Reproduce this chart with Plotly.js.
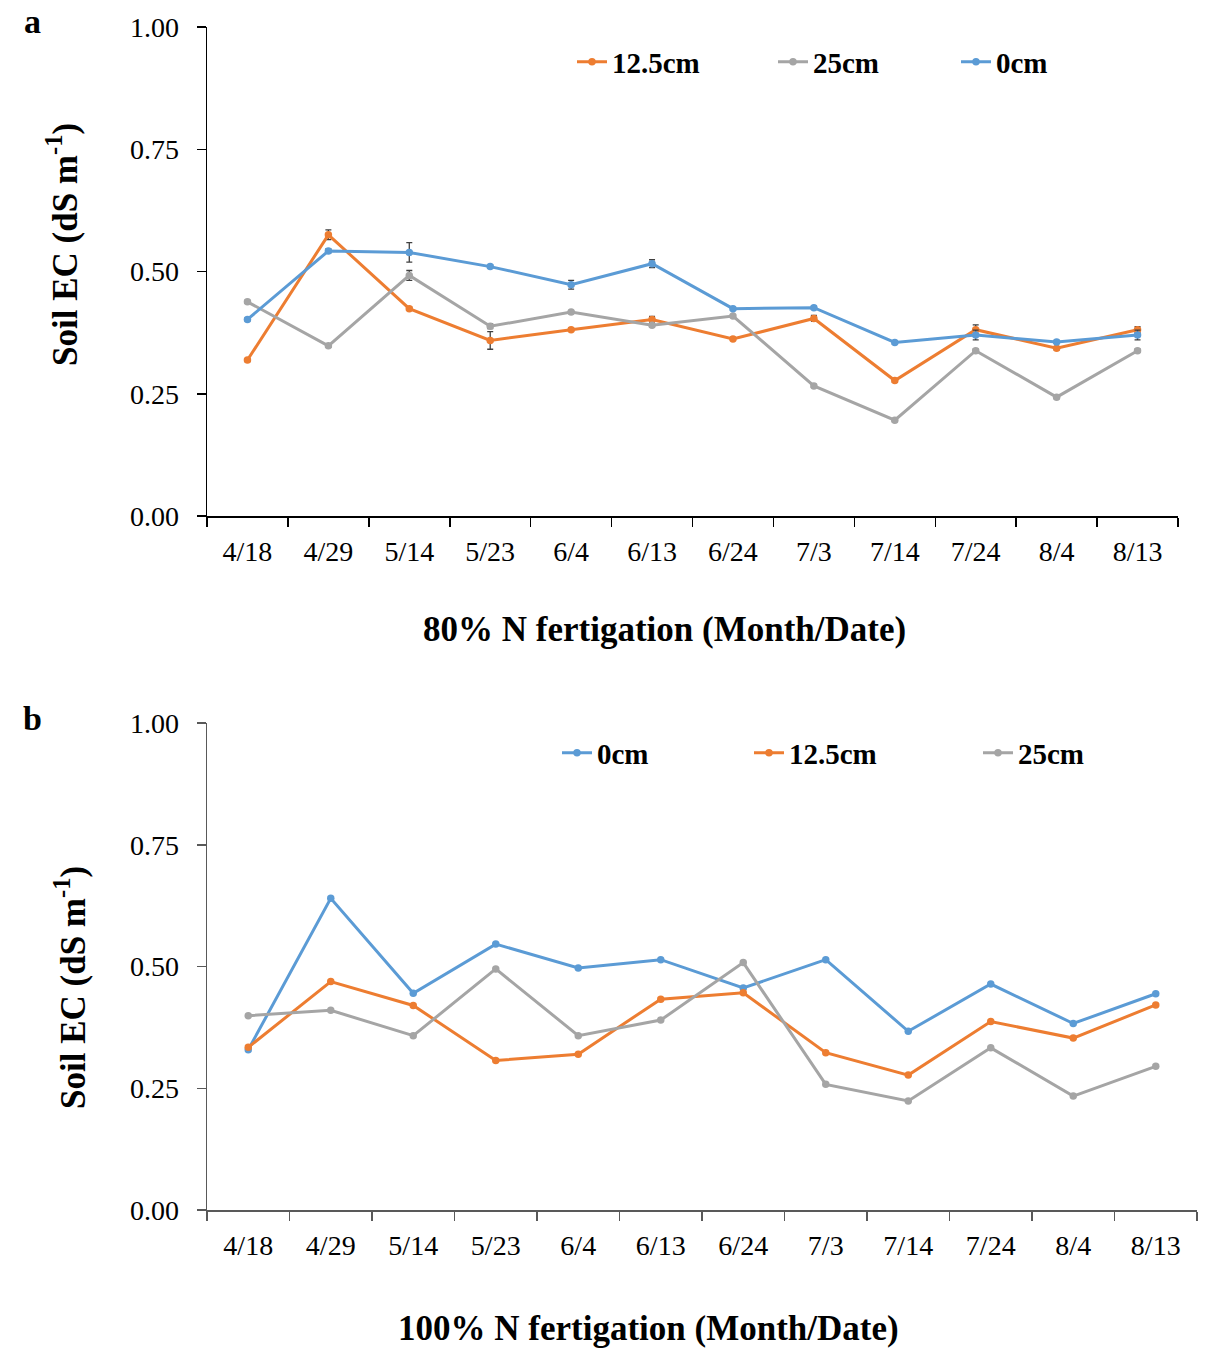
<!DOCTYPE html>
<html>
<head>
<meta charset="utf-8">
<script src="https://cdn.plot.ly/plotly-3.0.1.min.js"></script>
<style>html,body{margin:0;padding:0;background:#fff;}#chart{width:1215px;height:1364px;}</style>
</head>
<body>
<div id="chart"></div>
<script>
// ---- data ----
const dates = ["4/18","4/29","5/14","5/23","6/4","6/13","6/24","7/3","7/14","7/24","8/4","8/13"];
const yTicks = [0, 0.25, 0.5, 0.75, 1.0];

// Panel a: 80% N fertigation
const a_0cm   = [0.402, 0.542, 0.539, 0.510, 0.473, 0.516, 0.424, 0.426, 0.355, 0.370, 0.356, 0.370];
const a_12_5  = [0.319, 0.575, 0.424, 0.359, 0.381, 0.402, 0.362, 0.404, 0.277, 0.381, 0.343, 0.381];
const a_25    = [0.438, 0.348, 0.492, 0.388, 0.417, 0.390, 0.409, 0.266, 0.196, 0.338, 0.243, 0.338];
const a_0cm_err  = [0.003, 0.004, 0.020, 0.003, 0.009, 0.008, 0.003, 0.003, 0.003, 0.010, 0.003, 0.010];
const a_12_5_err = [0.003, 0.010, 0.003, 0.018, 0.003, 0.006, 0.003, 0.006, 0.003, 0.010, 0.003, 0.006];
const a_25_err   = [0.003, 0.003, 0.010, 0.005, 0.003, 0.003, 0.003, 0.003, 0.003, 0.003, 0.003, 0.003];

// Panel b: 100% N fertigation
const b_0cm   = [0.329, 0.640, 0.445, 0.546, 0.497, 0.514, 0.456, 0.514, 0.367, 0.464, 0.383, 0.444];
const b_12_5  = [0.334, 0.469, 0.420, 0.307, 0.320, 0.433, 0.446, 0.323, 0.277, 0.387, 0.353, 0.421];
const b_25    = [0.399, 0.410, 0.358, 0.495, 0.358, 0.390, 0.508, 0.258, 0.224, 0.333, 0.234, 0.295];

// ---- styling ----
const W = 1215, H = 1364;
const px = v => v / W;
const py = v => 1 - v / H;
const C_ORANGE = "#ED7D31", C_GRAY = "#A5A5A5", C_BLUE = "#5B9BD5";
const SERIF = "Liberation Serif, Times New Roman, serif";

function tr(name, y, color, xa, ya, leg, err) {
  const t = {
    type: "scatter", mode: "lines+markers", name: name,
    x: dates, y: y, xaxis: xa, yaxis: ya, legend: leg,
    line: {color: color, width: 3},
    marker: {color: color, size: 7.5, symbol: "circle"}
  };
  if (err) {
    t.error_y = {type: "data", array: err, visible: true, color: "#404040", thickness: 1.3, width: 3};
  }
  return t;
}

const data = [
  tr("12.5cm", a_12_5, C_ORANGE, "x", "y", "legend", a_12_5_err),
  tr("25cm",   a_25,   C_GRAY,   "x", "y", "legend2", a_25_err),
  tr("0cm",    a_0cm,  C_BLUE,   "x", "y", "legend3", a_0cm_err),
  tr("0cm",    b_0cm,  C_BLUE,   "x2", "y2", "legend4"),
  tr("12.5cm", b_12_5, C_ORANGE, "x2", "y2", "legend5"),
  tr("25cm",   b_25,   C_GRAY,   "x2", "y2", "legend6")
];

const tickFont = {family: SERIF, size: 28, color: "#000"};
const legFont = {family: SERIF, size: 29, color: "#000", weight: "bold"};

function xAxis(domain, anchor, lc) {
  return {
    domain: domain, anchor: anchor, type: "category", range: [-0.5, 11.5],
    showline: true, linecolor: lc, linewidth: 1.5,
    ticks: "outside", ticklen: 9, tickcolor: lc, tickwidth: 1.5, tickson: "boundaries",
    showgrid: false, zeroline: false, tickfont: tickFont, ticklabelstandoff: 10,
    fixedrange: true, automargin: false
  };
}
function yAxis(domain, anchor, lc) {
  return {
    domain: domain, anchor: anchor, range: [0, 1],
    tickvals: yTicks, tickformat: ".2f",
    showline: true, linecolor: lc, linewidth: 1.5,
    ticks: "outside", ticklen: 9, tickcolor: lc, tickwidth: 1.5,
    showgrid: false, zeroline: false, tickfont: tickFont, ticklabelstandoff: 12,
    fixedrange: true, automargin: false
  };
}
function leg(xText, yc) {
  return {
    x: px(xText - 40), y: py(yc), xanchor: "left", yanchor: "middle",
    orientation: "h", font: legFont, bgcolor: "rgba(0,0,0,0)", borderwidth: 0,
    itemwidth: 30
  };
}
function ann(text, x, y, size, angle) {
  return {text: text, x: px(x), y: py(y), xref: "paper", yref: "paper", showarrow: false,
          xanchor: "center", yanchor: "middle", textangle: angle || 0,
          font: {family: SERIF, size: size, color: "#000"}};
}

const layout = {
  width: W, height: H,
  margin: {l: 0, r: 0, t: 0, b: 0},
  paper_bgcolor: "#fff", plot_bgcolor: "#fff",
  showlegend: true,
  xaxis:  xAxis([px(207), px(1178)], "y", "#000"),
  yaxis:  yAxis([py(516), py(27)], "x", "#000"),
  xaxis2: xAxis([px(207), px(1197)], "y2", "#595959"),
  yaxis2: yAxis([py(1210), py(723)], "x2", "#595959"),
  legend:  leg(612, 62),
  legend2: leg(813, 62),
  legend3: leg(996, 62),
  legend4: leg(597, 753),
  legend5: leg(789, 753),
  legend6: leg(1018, 753),
  annotations: [
    ann("<b>a</b>", 32, 22, 34),
    ann("<b>b</b>", 32, 718, 34),
    ann("<b>80% N fertigation (Month/Date)</b>", 664, 629, 35),
    ann("<b>100% N fertigation (Month/Date)</b>", 648, 1328, 35),
    ann("<b>Soil EC (dS m<sup>-1</sup>)</b>", 62, 245, 35, -90),
    ann("<b>Soil EC (dS m<sup>-1</sup>)</b>", 70, 988, 35, -90)
  ]
};

Plotly.newPlot("chart", data, layout, {displayModeBar: false, staticPlot: true});
</script>
</body>
</html>
